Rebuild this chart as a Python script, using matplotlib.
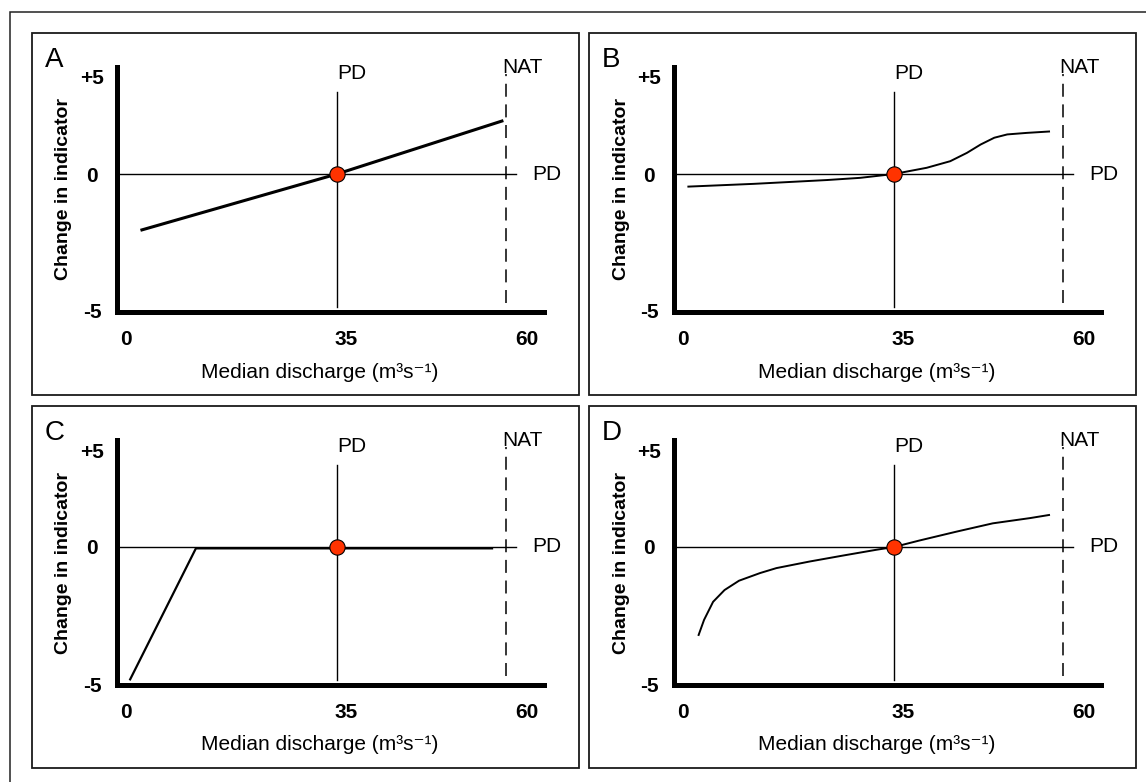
import numpy as np
import matplotlib.pyplot as plt
from matplotlib.patches import Rectangle
from matplotlib.transforms import ScaledTranslation

plt.rcParams['font.family'] = ['Liberation Sans', 'DejaVu Sans']

panel_letters = ['A', 'B', 'C', 'D']
pd_discharge = 35
nat_discharge = 57.2
x_ticks = [0, 35, 60]
x_tick_labels = ['0', '35', '60']
y_ticks = [-5, 0, 5]
y_tick_labels = ['-5', '0', '+5']

a_x = [2.65, 35, 56.7]
a_y = [-2.04, 0, 2.73]
b_x = [0.9, 11.7, 23.9, 29.4, 35, 36.2, 39.3, 42.4, 44.6, 46.4, 48.2, 49.9, 52.5, 55.4]
b_y = [-0.46, -0.36, -0.22, -0.14, 0, 0.09, 0.32, 0.66, 1.09, 1.52, 1.87, 2.04, 2.12, 2.19]
c_x = [0.7, 11.6, 55.4]
c_y = [-4.83, -0.05, -0.05]
d_x = [2.6, 3.5, 5.0, 6.9, 9.3, 12.8, 15.5, 21.0, 26.6, 32.1, 35, 38.3, 43.2, 48.0, 52.9, 55.4]
d_y = [-3.21, -2.66, -2.0, -1.57, -1.23, -0.95, -0.77, -0.53, -0.31, -0.1, 0, 0.33, 0.79, 1.22, 1.49, 1.65]

curves = [(a_x, a_y, 2.2), (b_x, b_y, 1.4), (c_x, c_y, 1.6), (d_x, d_y, 1.4)]

# the sketch is not drawn to scale: each half of each axis has its own stretch
KL, KR = 6.03, 7.6     # px per unit left / right of PD
KD, KU = 27.4, 19.4    # px per unit below / above zero


def fx(x):
    x = np.asarray(x, dtype=float)
    return np.where(x < pd_discharge, (x - pd_discharge) * KL, (x - pd_discharge) * KR)


def ifx(u):
    u = np.asarray(u, dtype=float)
    return np.where(u < 0, u / KL + pd_discharge, u / KR + pd_discharge)


def fy(y):
    y = np.asarray(y, dtype=float)
    return np.where(y < 0, y * KD, y * KU)


def ify(v):
    v = np.asarray(v, dtype=float)
    return np.where(v < 0, v / KD, v / KU)


W, H = 1146, 782
fig = plt.figure(figsize=(W / 100, H / 100), dpi=100)


def rect(l, t, r, b):
    return [l / W, 1 - b / H, (r - l) / W, (b - t) / H]


# outer frame (runs off the page on the right and bottom)
fig.add_artist(Rectangle((10 / W, -0.2), 1.5, 1.2 - 12 / H, transform=fig.transFigure,
                         fill=False, lw=1.1, ec='#222222'))

for i, (cx, cy, lw) in enumerate(curves):
    ox = 557 * (i % 2)
    oy = 373 * (i // 2)

    l, t, r, b = rect(32 + ox, 33 + oy, 579 + ox, 395 + oy)
    fig.add_artist(Rectangle((l, t), r, b, transform=fig.transFigure,
                             fill=False, lw=1.3, ec='#1a1a1a'))
    fig.text((45 + ox) / W, 1 - (67 + oy) / H, panel_letters[i], fontsize=20,
             ha='left', va='baseline')

    ax = fig.add_axes(rect(117 + ox, 67 + oy, 544 + ox, 312 + oy))
    ax.set_xscale('function', functions=(fx, ifx))
    ax.set_yscale('function', functions=(fy, ify))
    ax.set_xlim(35 + (117 - 337) / KL, 35 + (544 - 337) / KR)
    ax.set_ylim(-(312 - 174) / KD, (174 - 67) / KU)
    ax.patch.set_visible(False)

    for s in ['top', 'right']:
        ax.spines[s].set_visible(False)
    for s in ['left', 'bottom']:
        ax.spines[s].set_linewidth(3.6)

    ax.set_xticks(x_ticks)
    ax.set_xticklabels(x_tick_labels, fontsize=15, fontweight='bold')
    ax.set_yticks(y_ticks)
    ax.set_yticklabels(y_tick_labels, fontsize=15, fontweight='bold')
    ax.minorticks_off()
    ax.tick_params(axis='y', length=0, pad=18)
    ax.tick_params(axis='x', length=0, pad=19.5)
    for lbl in ax.get_yticklabels():
        lbl.set_ha('center')
    for lbl in ax.get_xticklabels():
        lbl.set_va('center')
    lab35 = ax.get_xticklabels()[1]
    lab35.set_transform(lab35.get_transform() + ScaledTranslation(0.095, 0, fig.dpi_scale_trans))

    ax.set_xlabel('Median discharge (m³s⁻¹)', fontsize=15, va='center')
    ax.xaxis.set_label_coords((320 - 117) / 427, -(372 - 312) / 245)
    ax.set_ylabel('Change in indicator', fontsize=14, fontweight='bold', va='center')
    ax.yaxis.set_label_coords((64 - 117) / 427, 0.5)

    # reference lines
    ax.plot([35 + (117 - 337) / KL, 58.55], [0, 0], color='black', lw=1.0, clip_on=False)
    ax.plot([pd_discharge, pd_discharge], [-4.85, 4.23], color='black', lw=1.0)
    ax.plot([nat_discharge, nat_discharge], [-4.71, 5.15], color='black', lw=1.1,
            ls=(0, (8.5, 5)), clip_on=False)

    ax.text(pd_discharge, 4.9, 'PD', fontsize=15, ha='left', va='baseline', clip_on=False)
    ax.text(56.7, 5.2, 'NAT', fontsize=15, ha='left', va='baseline', clip_on=False)
    ax.text(60.66, 0, 'PD', fontsize=15, ha='left', va='center', clip_on=False)

    ax.plot(cx, cy, color='black', lw=lw, zorder=3)
    ax.plot(pd_discharge, 0, 'o', ms=11, mfc='#FF3300', mec='black', mew=0.8,
            zorder=5, clip_on=False)

fig.savefig('out.png', dpi=100)
